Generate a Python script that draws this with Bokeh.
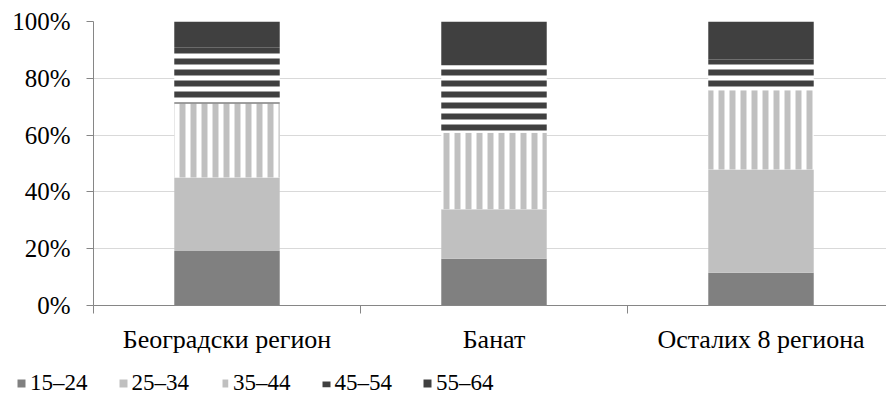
from bokeh.plotting import figure
from bokeh.layouts import column
from bokeh.models import Range1d, FixedTicker, Legend, LegendItem
from bokeh.embed import file_html
from bokeh.resources import INLINE

regions = ["Београдски регион", "Банат", "Осталих 8 региона"]
age_groups = ["15–24", "25–34", "35–44", "45–54", "55–64"]
s15_24 = [19.2, 16.5, 11.5]
s25_34 = [25.9, 17.4, 36.4]
s35_44 = [26.0, 26.9, 27.9]
s45_54 = [19.7, 23.8, 10.8]
s55_64 = [9.2, 15.4, 13.4]
y_ticks = [0, 20, 40, 60, 80, 100]
y_labels = ["0%", "20%", "40%", "60%", "80%", "100%"]

FONT = "Liberation Serif"

data = {
    "x": [0.5, 1.5, 2.5],
    "a": s15_24, "b": s25_34, "c": s35_44, "d": s45_54, "e": s55_64,
}
stackers = ["a", "b", "c", "d", "e"]
style = dict(width=0.395,
             fill_color=["#808080", "#c0c0c0", "white", "white", "#404040"],
             line_color=None,
             hatch_pattern=[" ", " ", "vertical_line", "horizontal_line", " "],
             hatch_color=["#808080", "#c0c0c0", "#c0c0c0", "#404040", "#404040"],
             hatch_scale=11, hatch_weight=6)

xr = Range1d(0, 793 / 267)

p = figure(width=886, height=366, output_backend="svg", toolbar_location=None,
           x_range=xr, y_range=Range1d(0, 100),
           min_border_left=93, min_border_top=21, min_border_right=0,
           min_border_bottom=61)
p.frame_align = False
p.outline_line_color = None
p.xgrid.grid_line_color = None
p.ygrid.grid_line_color = "#d9d9d9"
p.ygrid.ticker = FixedTicker(ticks=y_ticks)

p.vbar_stack(stackers, x="x", source=data, **style)

yax = p.yaxis[0]
yax.ticker = FixedTicker(ticks=y_ticks)
yax.major_label_overrides = {t: l for t, l in zip(y_ticks, y_labels)}
yax.axis_line_color = "#868686"
yax.major_tick_line_color = "#868686"
yax.major_tick_out = 7
yax.major_tick_in = 0
yax.minor_tick_line_color = None
yax.major_label_text_font = FONT
yax.major_label_text_font_size = "25px"
yax.major_label_text_color = "black"
yax.major_label_standoff = 16

xax = p.xaxis[0]
xax.ticker = FixedTicker(ticks=[0.5, 1.5, 2.5], minor_ticks=[0, 1, 2, 3])
xax.major_label_overrides = {0.5: regions[0], 1.5: regions[1], 2.5: regions[2]}
xax.axis_line_color = "#868686"
xax.major_tick_line_color = None
xax.major_tick_out = 8
xax.major_tick_in = 0
xax.minor_tick_line_color = "#868686"
xax.minor_tick_out = 8
xax.minor_tick_in = 0
xax.major_label_text_font = FONT
xax.major_label_text_font_size = "26px"
xax.major_label_text_color = "black"
xax.major_label_standoff = 11

# legend strip below the chart (its renderers are hidden; only the legend shows)
p2 = figure(width=886, height=30, output_backend="svg", toolbar_location=None,
            x_range=Range1d(0, 886 / 267), y_range=Range1d(0, 100),
            x_axis_type=None, y_axis_type=None,
            min_border_left=0, min_border_top=0, min_border_right=0,
            min_border_bottom=0)
p2.frame_align = False
p2.outline_line_color = None
p2.xgrid.grid_line_color = None
p2.ygrid.grid_line_color = None
rs = p2.vbar_stack(stackers, x="x", source=data, **style)
for r in rs:
    r.visible = False

legend = Legend(items=[LegendItem(label=g, renderers=[r]) for g, r in zip(age_groups, rs)],
                orientation="horizontal", nrows=1, location=(16, 0),
                label_text_font=FONT, label_text_font_size="23px",
                label_text_color="black", glyph_width=10, glyph_height=10,
                label_standoff=4, spacing=30, padding=0, margin=0,
                inactive_fill_alpha=0,
                border_line_color=None, background_fill_alpha=0)
p2.add_layout(legend, "center")

layout = column(p, p2, spacing=0)
open("out.html", "w").write(file_html(layout, INLINE))
